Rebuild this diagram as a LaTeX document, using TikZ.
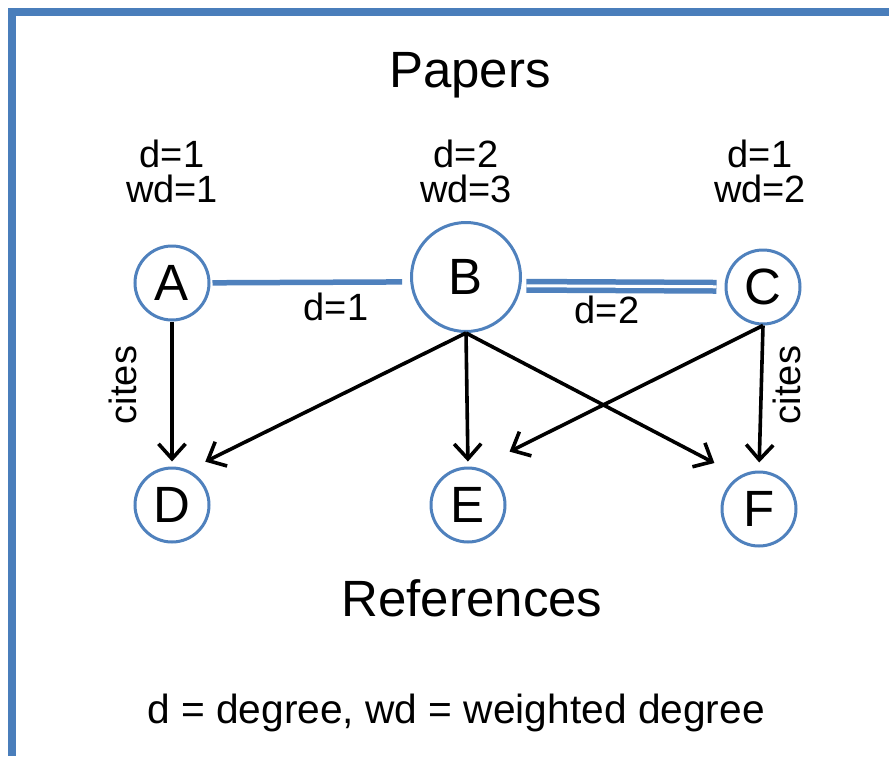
\documentclass[tikz,border=0pt]{standalone}
\usepackage{fontspec}
\setmainfont{Liberation Sans}
\usetikzlibrary{arrows.meta}
\definecolor{bordblue}{RGB}{74,126,187}
\definecolor{nodeblue}{RGB}{79,129,189}
\begin{document}
\begin{tikzpicture}[x=1pt,y=-1pt,
  vtx/.style={circle,draw=nodeblue,line width=3pt,minimum size=74pt,inner sep=0pt,font=\fontsize{51}{51}\selectfont},
  lbl/.style={anchor=base,inner sep=0pt,font=\fontsize{38}{38}\selectfont},
  bigtxt/.style={anchor=base,inner sep=0pt,font=\fontsize{51}{51}\selectfont},
  citelbl/.style={rotate=90,inner sep=0pt,font=\fontsize{38}{38}\selectfont},
  cite/.style={-{Straight Barb[length=15pt,width=27pt]},line width=3.6pt,black},
  wedge/.style={nodeblue,line width=5.5pt},
  wedge2/.style={nodeblue,line width=5.5pt,double=white,double distance=3pt}
]
\useasboundingbox (0,0) rectangle (889,756);
\fill[white] (0,0) rectangle (889,756);
\fill[bordblue] (8,8) rectangle (889,16);
\fill[bordblue] (8,8) rectangle (16,756);

% vertices
\node[vtx] (A) at (172,283) {A};
\node[vtx,minimum size=109pt] (B) at (466,277) {B};
\node[vtx] (C) at (763,287) {C};
\node[vtx] (D) at (172,505) {D};
\node[vtx] (E) at (468,505) {E};
\node[vtx] (F) at (759,509) {F};

% texts
\node[bigtxt] (papers) at (470,87) {Papers};
\node[lbl] (dA) at (172,167) {d=1};
\node[lbl] (wdA) at (172,202) {wd=1};
\node[lbl] (dB) at (466,167) {d=2};
\node[lbl] (wdB) at (466,202) {wd=3};
\node[lbl] (dC) at (760,167) {d=1};
\node[lbl] (wdC) at (760,202) {wd=2};
\node[lbl] (eAB) at (336,320) {d=1};
\node[lbl] (eBC) at (607,323) {d=2};
\node[bigtxt] (refs) at (472,616) {References};
\node[anchor=base,inner sep=0pt,font=\fontsize{40.7}{40.7}\selectfont] (legend) at (456,723) {d = degree, wd = weighted degree};
\node[citelbl] (citeL) at (123,385) {cites};
\node[citelbl] (citeR) at (787,385) {cites};

% undirected weighted edges
\draw[wedge,shorten <=2pt,shorten >=8pt] (A) -- (B.185);
\draw[wedge2,shorten <=5pt,shorten >=8pt] (B.-9) -- (C);

% citations
\draw[cite,shorten >=5pt] (A) -- (D);
\draw[cite,shorten >=19pt] (B.south) -- (D.65);
\draw[cite,shorten >=5pt] (B.south) -- (E.north);
\draw[cite,shorten >=28pt] (B.south) -- (F.121);
\draw[cite,shorten >=36pt] (C.south) -- (E.76);
\draw[cite,shorten >=8pt] (C.south) -- (F.north);
\end{tikzpicture}
\end{document}
